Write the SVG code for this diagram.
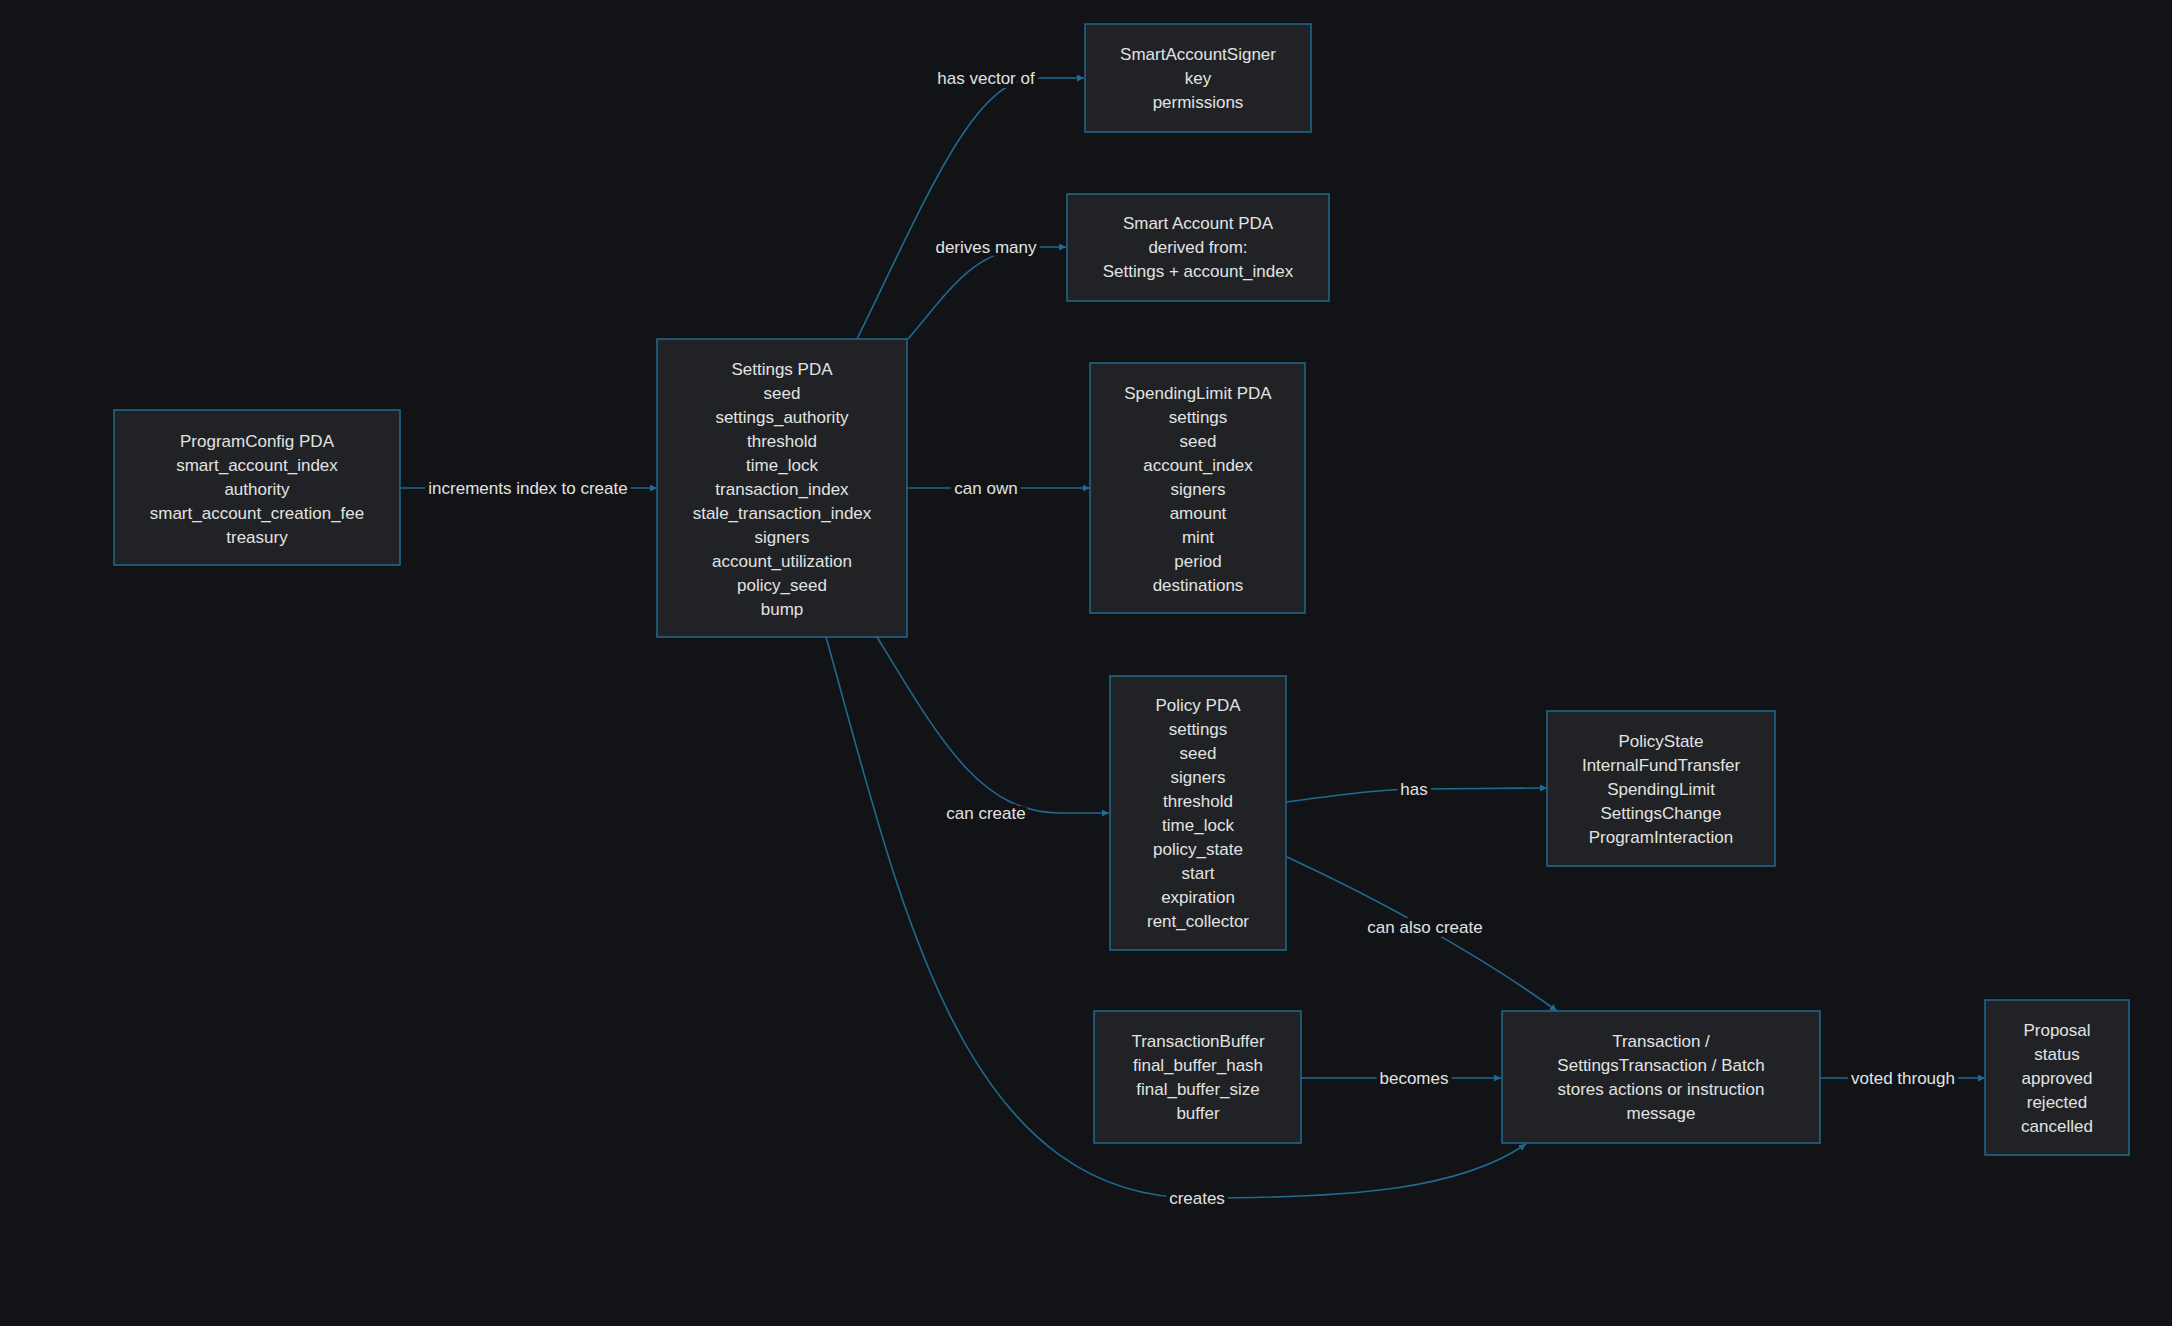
<svg xmlns="http://www.w3.org/2000/svg" width="2172" height="1326" viewBox="0 0 2172 1326">
<defs>
<style>
.n rect{fill:#202225;stroke:#1f6a8f;stroke-width:1.5}
.n text{fill:#e2e2e2;font-family:"Liberation Sans",Arial,sans-serif;font-size:17px;text-anchor:middle}
.e path{fill:none;stroke:#1f6a8f;stroke-width:1.6;marker-end:url(#a)}
.e text{fill:#e2e2e2;font-family:"Liberation Sans",Arial,sans-serif;font-size:17px;text-anchor:middle;stroke:#111316;stroke-width:8px;paint-order:stroke;stroke-linejoin:round}
</style>
<marker id="a" viewBox="0 0 10 10" refX="10" refY="5" markerWidth="7" markerHeight="7" orient="auto" markerUnits="userSpaceOnUse"><path d="M0,0 L10,5 L0,10 z" fill="#1f6a8f"/></marker>
</defs>
<rect width="2172" height="1326" fill="#111316"/>
<g class="e" id="connectors">
<path d="M400,488 L657,488" style="marker-end:url(#a)"/>
<path d="M857,339 C930,190 975,78 1036,78 L1084,78"/>
<path d="M908,339 C950,290 975,247 1036,247 L1066,247"/>
<path d="M907,488 L1090,488"/>
<path d="M877,637 C940,740 980,813 1060,813 L1109,813"/>
<path d="M1286,802 C1340,795 1380,789 1420,789 L1547,788"/>
<path d="M1287,857 C1380,900 1480,955 1557,1011"/>
<path d="M1301,1078 L1501,1078"/>
<path d="M1820,1078 L1985,1078"/>
<path d="M826,637 C900,900 960,1198 1197,1198 C1350,1198 1460,1190 1526,1144"/>
<text x="528" y="494">increments index to create</text>
<text x="986" y="84">has vector of</text>
<text x="986" y="253">derives many</text>
<text x="986" y="494">can own</text>
<text x="986" y="819">can create</text>
<text x="1414" y="795">has</text>
<text x="1425" y="933">can also create</text>
<text x="1414" y="1084">becomes</text>
<text x="1903" y="1084">voted through</text>
<text x="1197" y="1204">creates</text>
</g>
<g class="n" id="programconfig"><rect x="114" y="410" width="286" height="155"/>
<text x="257" y="447">ProgramConfig PDA</text><text x="257" y="471">smart_account_index</text><text x="257" y="495">authority</text><text x="257" y="519">smart_account_creation_fee</text><text x="257" y="543">treasury</text></g>
<g class="n" id="settings"><rect x="657" y="339" width="250" height="298"/>
<text x="782" y="375">Settings PDA</text><text x="782" y="399">seed</text><text x="782" y="423">settings_authority</text><text x="782" y="447">threshold</text><text x="782" y="471">time_lock</text><text x="782" y="495">transaction_index</text><text x="782" y="519">stale_transaction_index</text><text x="782" y="543">signers</text><text x="782" y="567">account_utilization</text><text x="782" y="591">policy_seed</text><text x="782" y="615">bump</text></g>
<g class="n" id="signer"><rect x="1085" y="24" width="226" height="108"/>
<text x="1198" y="60">SmartAccountSigner</text><text x="1198" y="84">key</text><text x="1198" y="108">permissions</text></g>
<g class="n" id="smartaccount"><rect x="1067" y="194" width="262" height="107"/>
<text x="1198" y="229">Smart Account PDA</text><text x="1198" y="253">derived from:</text><text x="1198" y="277">Settings + account_index</text></g>
<g class="n" id="spendinglimit"><rect x="1090" y="363" width="215" height="250"/>
<text x="1198" y="399">SpendingLimit PDA</text><text x="1198" y="423">settings</text><text x="1198" y="447">seed</text><text x="1198" y="471">account_index</text><text x="1198" y="495">signers</text><text x="1198" y="519">amount</text><text x="1198" y="543">mint</text><text x="1198" y="567">period</text><text x="1198" y="591">destinations</text></g>
<g class="n" id="policy"><rect x="1110" y="676" width="176" height="274"/>
<text x="1198" y="711">Policy PDA</text><text x="1198" y="735">settings</text><text x="1198" y="759">seed</text><text x="1198" y="783">signers</text><text x="1198" y="807">threshold</text><text x="1198" y="831">time_lock</text><text x="1198" y="855">policy_state</text><text x="1198" y="879">start</text><text x="1198" y="903">expiration</text><text x="1198" y="927">rent_collector</text></g>
<g class="n" id="policystate"><rect x="1547" y="711" width="228" height="155"/>
<text x="1661" y="747">PolicyState</text><text x="1661" y="771">InternalFundTransfer</text><text x="1661" y="795">SpendingLimit</text><text x="1661" y="819">SettingsChange</text><text x="1661" y="843">ProgramInteraction</text></g>
<g class="n" id="txbuffer"><rect x="1094" y="1011" width="207" height="132"/>
<text x="1198" y="1047">TransactionBuffer</text><text x="1198" y="1071">final_buffer_hash</text><text x="1198" y="1095">final_buffer_size</text><text x="1198" y="1119">buffer</text></g>
<g class="n" id="transaction"><rect x="1502" y="1011" width="318" height="132"/>
<text x="1661" y="1047">Transaction /</text><text x="1661" y="1071">SettingsTransaction / Batch</text><text x="1661" y="1095">stores actions or instruction</text><text x="1661" y="1119">message</text></g>
<g class="n" id="proposal"><rect x="1985" y="1000" width="144" height="155"/>
<text x="2057" y="1036">Proposal</text><text x="2057" y="1060">status</text><text x="2057" y="1084">approved</text><text x="2057" y="1108">rejected</text><text x="2057" y="1132">cancelled</text></g>
</svg>
